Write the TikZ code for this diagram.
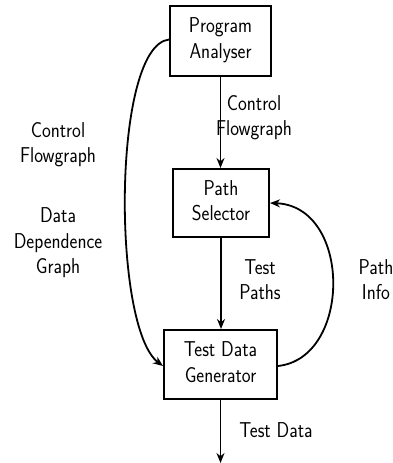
\documentclass[tikz,border=0pt]{standalone}
\usetikzlibrary{arrows.meta}
\renewcommand{\familydefault}{\sfdefault}
\newcommand{\nrw}[1]{\scalebox{0.87}[1]{\begin{tabular}{@{}c@{}}#1\end{tabular}}}
\begin{document}
\begin{tikzpicture}[x=1pt,y=-1pt,
  box/.style={draw,line width=2pt,inner sep=0pt,align=center,font=\fontsize{21.5}{25.5}\selectfont},
  lbl/.style={inner sep=0pt,align=center,font=\fontsize{21.5}{25.5}\selectfont},
  conn/.style={line width=1.8pt,-{Stealth[length=10pt,width=8pt]}}]
\useasboundingbox (0,0) rectangle (392,463);
\node[box,minimum width=101pt,minimum height=70pt] (pa) at (220.5,40.5) {\nrw{Program\\Analyser}};
\node[box,minimum width=96pt,minimum height=68pt] (ps) at (221,203) {\nrw{Path\\Selector}};
\node[box,minimum width=113pt,minimum height=69pt] (tdg) at (220.5,364.5) {\nrw{Test Data\\Generator}};
\coordinate (out) at (220.5,463);
\draw[conn] (pa.south) -- (pa.south |- ps.north);
\draw[conn] (ps.south) -- (ps.south |- tdg.north);
\draw[conn] (tdg.south) -- (out);
\draw[conn] ([yshift=1pt]pa.west) .. controls (112,46) and (112,328) .. ([yshift=-1.5pt]tdg.west);
\draw[conn] ([yshift=-1.5pt]tdg.east) .. controls (352,358) and (352,206) .. (ps.east);
\node[lbl] (l1) at (254,118) {\nrw{Control\\Flowgraph}};
\node[lbl] (l2) at (58,145) {\nrw{Control\\Flowgraph}};
\node[lbl] (l3) at (58,243) {\nrw{Data\\Dependence\\Graph}};
\node[lbl] (l4) at (260,282) {\nrw{Test\\Paths}};
\node[lbl] (l5) at (376,282) {\nrw{Path\\Info}};
\node[lbl] (l6) at (276,432) {\nrw{Test Data}};
\end{tikzpicture}
\end{document}
